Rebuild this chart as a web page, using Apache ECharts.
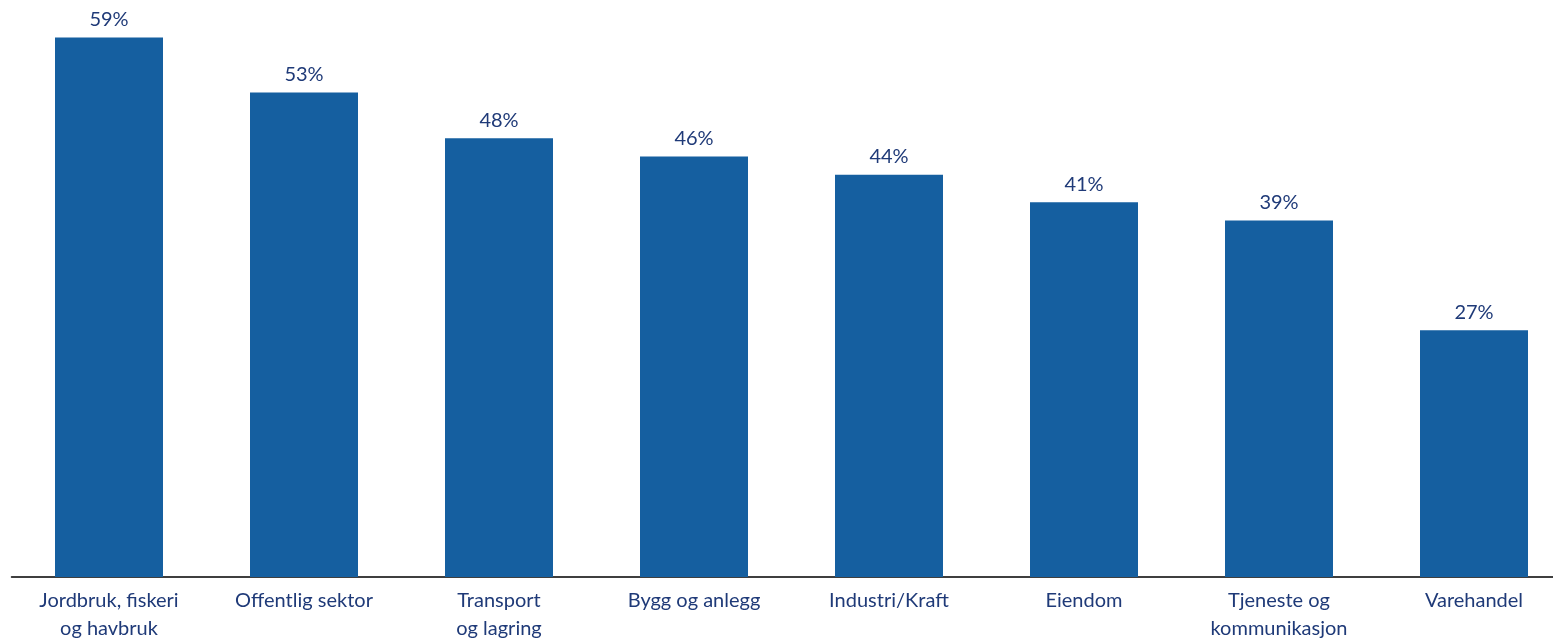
<!DOCTYPE html>
<html>
<head>
<meta charset="utf-8">
<script src="https://cdn.jsdelivr.net/npm/echarts@6/dist/echarts.min.js"></script>
<style>
html,body{margin:0;padding:0;background:#fff;overflow:hidden;width:1553px;height:643px;}
#chart{width:1572px;height:643px;}
</style>
</head>
<body>
<div id="chart"></div>
<script>
const categories = ["Jordbruk, fiskeri\nog havbruk", "Offentlig sektor", "Transport\nog lagring", "Bygg og anlegg", "Industri/Kraft", "Eiendom", "Tjeneste og\nkommunikasjon", "Varehandel"];
const values = [59, 53, 48, 46, 44, 41, 39, 27];

const chart = echarts.init(document.getElementById('chart'));
chart.setOption({
  animation: false,
  grid: { left: 11.5, right: 0.5, top: 1, bottom: 62, containLabel: false },
  xAxis: {
    type: 'category',
    data: categories,
    axisLine: { show: true, lineStyle: { color: '#000', width: 1.5 } },
    axisTick: { show: false },
    axisLabel: {
      interval: 0,
      color: '#1F3A78',
      fontFamily: 'Lato',
      fontSize: 20,
      lineHeight: 28,
      margin: 10
    }
  },
  yAxis: {
    type: 'value',
    min: 0,
    max: 63,
    show: false,
    splitLine: { show: false }
  },
  series: [{
    type: 'bar',
    data: values,
    barWidth: 108,
    itemStyle: { color: '#155FA0' },
    label: {
      show: true,
      position: 'top',
      distance: 8,
      formatter: '{c}%',
      color: '#1F3A78',
      fontFamily: 'Lato',
      fontSize: 20
    }
  }]
});
</script>
</body>
</html>
